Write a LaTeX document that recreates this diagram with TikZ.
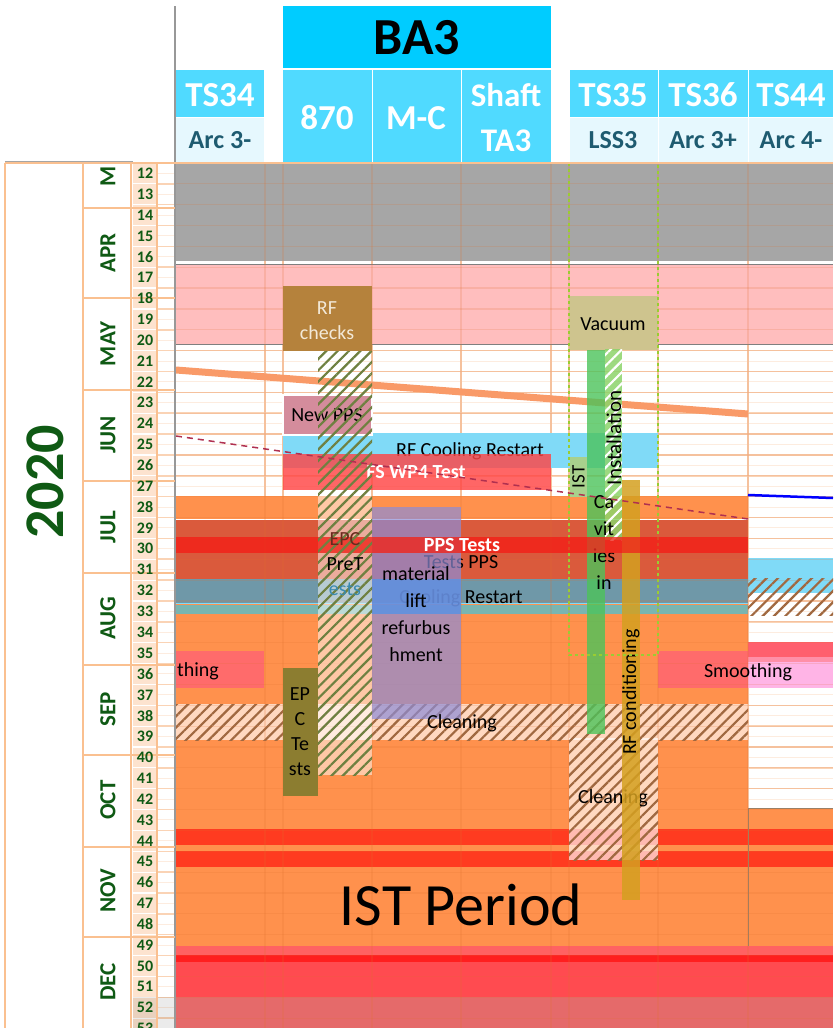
\documentclass[tikz,border=0pt]{standalone}
\usepackage{fontspec}
\setmainfont{Carlito}
\usetikzlibrary{patterns.meta}
\definecolor{hdrA}{HTML}{00CCFF}
\definecolor{hdrB}{HTML}{50DAFF}
\definecolor{hdrC}{HTML}{E6F8FE}
\definecolor{hdrT}{HTML}{1E5B70}
\definecolor{dgreen}{HTML}{0F5A14}
\definecolor{axln}{HTML}{FAC090}
\definecolor{wkfill}{HTML}{FDE3CF}
\definecolor{gridc}{HTML}{FAD3B5}
\definecolor{gridh}{HTML}{FDECDF}
\definecolor{gridov}{HTML}{E07030}
\definecolor{grayband}{HTML}{A6A6A6}
\definecolor{pinkband}{HTML}{FFBEBE}
\definecolor{ora}{HTML}{FF914D}
\definecolor{dred}{HTML}{DA5A3C}
\definecolor{bred}{HTML}{EE2A1E}
\definecolor{bgray}{HTML}{6F98A8}
\definecolor{tealb}{HTML}{7AB5B0}
\definecolor{lblue}{HTML}{80DAF7}
\definecolor{smoo}{HTML}{FF6B6B}
\definecolor{lav}{HTML}{FFB4E6}
\definecolor{rstrip}{HTML}{FF5F6E}
\definecolor{rmid}{HTML}{FF8FA8}
\definecolor{red44}{HTML}{FF3B20}
\definecolor{hatchbr}{HTML}{A06840}
\definecolor{hatchgr}{HTML}{6E8040}
\definecolor{rfchk}{HTML}{B5823C}
\definecolor{rfckt}{HTML}{F3E9D8}
\definecolor{newpps}{HTML}{D48C9C}
\definecolor{fswp}{HTML}{FF4545}
\definecolor{vac}{HTML}{CEC48E}
\definecolor{istg}{HTML}{A8D08D}
\definecolor{cavg}{HTML}{4CC35A}
\definecolor{instg}{HTML}{8CD46A}
\definecolor{rfcond}{HTML}{D4A020}
\definecolor{epct}{HTML}{8C7D30}
\definecolor{matl}{HTML}{8C8CD8}
\definecolor{matblue}{HTML}{5B8FE0}
\definecolor{botA}{HTML}{FF6262}
\definecolor{botB}{HTML}{FF1F1F}
\definecolor{botC}{HTML}{FF4B50}
\definecolor{botD}{HTML}{E56A6A}
\definecolor{diagc}{HTML}{F99A68}
\definecolor{dashc}{HTML}{B03050}
\definecolor{tsdash}{HTML}{9ACD32}
\definecolor{epcA}{HTML}{6A2A1E}
\definecolor{epcC}{HTML}{3A8AB0}
\definecolor{edge}{HTML}{7F7F7F}
\begin{document}
\begin{tikzpicture}[x=1pt,y=-1pt,
  lbl/.style={font=\fontsize{20}{25}\selectfont, inner sep=0pt, align=center, text=black},
  lblb/.style={font=\bfseries\fontsize{20}{25}\selectfont, inner sep=0pt, align=center, text=white},
  hdrw/.style={font=\bfseries\fontsize{35}{45}\selectfont, text=white, inner sep=0pt, align=center},
  hdrs/.style={font=\bfseries\fontsize{26}{30}\selectfont, text=hdrT, inner sep=0pt},
  wk/.style={font=\bfseries\fontsize{16}{18}\selectfont, text=dgreen, inner sep=0pt},
  mon/.style={font=\bfseries\fontsize{23}{26}\selectfont, text=dgreen, rotate=90, inner sep=0pt},
  hatchB/.style={pattern={Lines[angle=45,distance=8pt,line width=2.2pt]}, pattern color=hatchbr},
  hatchG/.style={pattern={Lines[angle=45,distance=8pt,line width=2.2pt]}, pattern color=hatchgr},
  hatchW/.style={pattern={Lines[angle=45,distance=8pt,line width=2.2pt]}, pattern color=white},
  gline/.style={gridov, opacity=0.18, line width=1.2pt}
]
\useasboundingbox (0,0) rectangle (833,1028);
\fill[white] (0,0) rectangle (833,1028);

% ---------- left axis ----------
\fill[wkfill] (133,163) rectangle (157,1028);
\foreach \i in {1,...,41} \draw[white, line width=1.2pt] (133,{162.9+\i*20.86}) -- (157,{162.9+\i*20.86});
% ---------- chart grid on white ----------
\foreach \i in {0,...,41} \draw[gridh, line width=1pt] (157,{173.3+\i*20.86}) -- (833,{173.3+\i*20.86});
\foreach \i in {0,...,41} \draw[gridc, line width=1.5pt] (157,{162.9+\i*20.86}) -- (833,{162.9+\i*20.86});
\foreach \x in {265,283,372,461,551,569,658,748} \draw[gridc, line width=2pt] (\x,163) -- (\x,1028);

% ---------- wide bands ----------
\fill[grayband] (176,163) rectangle (833,261);
\fill[pinkband] (176,265) rectangle (833,344);
\draw[edge, line width=1pt] (176,264.5) -- (833,264.5);
\draw[edge, line width=1pt] (176,344) -- (833,344);
\fill[ora] (176,496) rectangle (748,946);
\fill[ora] (748,808) rectangle (833,946);
\draw[white, line width=1.2pt] (176,519.5) -- (748,519.5);
\fill[dred] (176,520) rectangle (748,579);
\fill[bred] (176,537) rectangle (748,553);
\fill[bgray] (176,579) rectangle (748,603);
\draw[lblue, line width=1.5pt] (176,603.7) -- (748,603.7);
\fill[tealb] (176,604.5) rectangle (748,614);
\fill[smoo] (176,651) rectangle (264,688);
\fill[smoo] (658,651) rectangle (748,688);
\fill[rstrip] (748,642) rectangle (833,657);
\fill[rmid] (748,657) rectangle (833,662);
\fill[lav] (748,662) rectangle (833,688);
\fill[lblue] (748,558) rectangle (833,593);
\fill[hatchB] (748,578) rectangle (833,615);
\fill[white, opacity=0.65] (176,704) rectangle (748,740);
\fill[hatchB] (176,704) rectangle (748,740);
\fill[red44] (176,829) rectangle (833,845);
\fill[red44] (176,851) rectangle (833,867);
\fill[botA] (176,946) rectangle (833,955);
\fill[botB] (176,955) rectangle (833,962);
\fill[botC] (176,962) rectangle (833,997);
\fill[botD] (176,997) rectangle (833,1028);
\fill[black, opacity=0.08] (133,997) rectangle (175,1028);
\draw[edge!60!brown, line width=0.8pt] (748,808) -- (833,808);
\draw[edge!60!brown, line width=0.8pt] (748,808) -- (748,946);

% grid overlay
\foreach \i in {0,...,41} \draw[gline] (176,{162.9+\i*20.86}) -- (833,{162.9+\i*20.86});
\foreach \x in {265,283,372,461,551,569,658,748} \draw[gline, line width=1.8pt] (\x,163) -- (\x,1028);

% ---------- diagonal orange line ----------
\coordinate (oA) at (176,370);
\coordinate (oB) at (748,414);
\draw[diagc, line width=7pt] (oA) -- (oB);

% ---------- texts lying under boxes ----------
\node[lbl] (tppsT) at (461,562) {Tests PPS};
\node[lbl] (crT) at (461,598) {Cooling Restart};

% ---------- 870 column boxes ----------
\fill[white, opacity=0.5] (318,496) rectangle (372,775);
\fill[rfchk] (283,286) rectangle (372,351);
\node[lbl, text=rfckt] (rfchkT) at (327,321) {RF\\checks};
\fill[lblue] (283,433) rectangle (658,468);
\node[lbl] (coolT) at (470,451) {RF Cooling Restart};
\fill[newpps] (283,395) rectangle (372,435);
\draw[white, line width=1.5pt] (283,395) rectangle (372,435);
\node[lbl] (newppsT) at (327,415) {New PPS};
\fill[fswp, opacity=0.82] (283,454) rectangle (551,490);
\node[lblb] (fsT) at (416,472) {FS WP4 Test};

% ---------- TS35 ----------
\fill[vac] (569,296) rectangle (658,350);
\node[lbl] (vacT) at (613,324) {Vacuum};
\fill[istg] (570,457) rectangle (587,497);
\node[lbl, rotate=90, font=\fontsize{19}{22}\selectfont] (istT) at (578.5,477) {IST};
\fill[white, opacity=0.65] (569,738) rectangle (658,860);
\fill[hatchB] (569,738) rectangle (658,860);
\node[lbl] (cl2T) at (613,798) {Cleaning};
\fill[cavg, opacity=0.8] (587,350) rectangle (605,734);
\fill[instg, opacity=0.85] (605,349) rectangle (622,540);
\fill[hatchW] (605,349) rectangle (622,540);
\fill[rfcond, opacity=0.85] (622,480) rectangle (640,900);
\node[lbl, rotate=90, font=\fontsize{21}{24}\selectfont] (instT) at (614,438) {Installation};
\node[lbl, font=\fontsize{20}{27}\selectfont] (cavT) at (604,543) {Ca\\vit\\ies\\in};
\node[lbl, rotate=90] (rfcT) at (631,692) {RF conditioning};
\draw[tsdash, dashed, line width=1.2pt] (569,163) -- (569,655) -- (658,655) -- (658,163);

% ---------- M-C material box ----------
\fill[matl, opacity=0.7] (372,507) rectangle (461,719);
\fill[matblue, opacity=0.7] (372,579) rectangle (461,614);
\node[lbl, font=\fontsize{20}{27}\selectfont] (matT) at (416,614) {material\\lift\\refurbus\\hment};

% bright red band on top
\fill[bred, opacity=0.8] (176,537) rectangle (748,553);
\node[lblb] (ppsT) at (462,545) {PPS Tests};

% EPC tests box
\fill[epct] (283,668) rectangle (318,796);
\node[lbl] (epctT) at (300,732) {EP\\C\\Te\\sts};

% 870 hatch strip lines
\fill[hatchG] (318,351) rectangle (372,775);
\node[lbl] (epcpT) at (345,564) {\textcolor{epcA}{EPC}\\PreT\\\textcolor{epcC}{ests}};

% other labels
\node[lbl, anchor=west] (thingT) at (177,671) {thing};
\node[lbl] (smT) at (748,672) {Smoothing};
\node[lbl] (clT) at (462,723) {Cleaning};
\node[lbl, font=\fontsize{60}{70}\selectfont] (istpT) at (461,905) {IST Period};

% dashed and blue lines
\coordinate (dA) at (176,436);
\coordinate (dB) at (748,519);
\draw[dashc, line width=1.5pt, dash pattern=on 6pt off 5pt] (dA) -- (dB);
\coordinate (bA) at (748,495);
\coordinate (bB) at (833,498);
\draw[blue, line width=2.5pt] (bA) -- (bB);

% ---------- headers ----------
\fill[hdrA] (283,6) rectangle (551,68);
\node[font=\bfseries\fontsize{52}{60}\selectfont, inner sep=0pt] (ba3) at (417,38) {BA3};
\fill[hdrB] (176,70) rectangle (264,117);
\fill[hdrC] (176,117) rectangle (264,162);
\fill[hdrB] (283,70) rectangle (551,162);
\fill[hdrB] (570,70) rectangle (833,117);
\fill[hdrC] (570,117) rectangle (833,162);
\draw[white, line width=1.5pt] (372.5,70) -- (372.5,162);
\draw[white, line width=1.5pt] (461.5,70) -- (461.5,162);
\draw[white, line width=1.5pt] (658.5,70) -- (658.5,162);
\draw[white, line width=1.5pt] (748.5,70) -- (748.5,162);
\draw[white, line width=1pt] (176,117) -- (264,117);
\draw[white, line width=1pt] (570,117) -- (833,117);
\node[hdrw] (ts34) at (220,95) {TS34};
\node[hdrs] (arc3m) at (220,140) {Arc 3-};
\node[hdrw] (h870) at (327,118) {870};
\node[hdrw] (hmc) at (416,118) {M-C};
\node[hdrw, font=\bfseries\fontsize{33}{45}\selectfont] (hshaft) at (506,118) {Shaft\\TA3};
\node[hdrw] (ts35) at (613,95) {TS35};
\node[hdrs] (lss3) at (613,140) {LSS3};
\node[hdrw] (ts36) at (703,95) {TS36};
\node[hdrs] (arc3p) at (703,140) {Arc 3+};
\node[hdrw] (ts44) at (791,95) {TS44};
\node[hdrs] (arc4m) at (791,140) {Arc 4-};

% ---------- axis frame ----------
\draw[edge!80, line width=1.2pt] (175,6) -- (175,1028);
\draw[edge!70, line width=0.8pt] (5,161) -- (133,161);
\draw[axln, line width=2.5pt] (5,163) -- (833,163);
\draw[axln, line width=2.5pt] (5,163) -- (5,1028);
\draw[axln, line width=2.5pt] (83,163) -- (83,1028);
\draw[axln, line width=2.5pt] (131,163) -- (131,1028);
\draw[axln, line width=1.2pt] (157,163) -- (157,1028);
\foreach \y in {208,298,390,481,573,665,755,847,937} \draw[axln, line width=2.5pt] (83,\y) -- (175,\y);

\foreach \n [count=\i from 0] in {12,...,53} \node[wk] (w\n) at (145,{173.3+\i*20.86}) {\n};
\node[mon] (mM) at (108,176) {M};
\node[mon] (mApr) at (108,253) {APR};
\node[mon] (mMay) at (108,344) {MAY};
\node[mon] (mJun) at (108,435) {JUN};
\node[mon] (mJul) at (108,527) {JUL};
\node[mon] (mAug) at (108,618) {AUG};
\node[mon] (mSep) at (108,709) {SEP};
\node[mon] (mOct) at (108,800) {OCT};
\node[mon] (mNov) at (108,891) {NOV};
\node[mon] (mDec) at (108,982) {DEC};
\node[font=\bfseries\fontsize{56}{60}\selectfont, text=dgreen, rotate=90, inner sep=0pt] (year) at (45,482) {2020};
\end{tikzpicture}
\end{document}
